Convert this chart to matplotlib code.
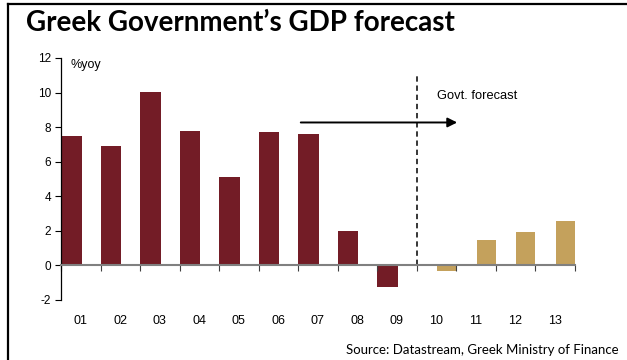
import numpy as np
import matplotlib.pyplot as plt
from matplotlib.lines import Line2D

# --- data ---
years = ['01', '02', '03', '04', '05', '06', '07', '08', '09', '10', '11', '12', '13']
actual = [7.5, 6.9, 10.05, 7.8, 5.1, 7.7, 7.6, 2.0, -1.25]
forecast = [-0.3, 1.45, 1.95, 2.55]

RED = '#731c26'
TAN = '#c4a15c'

plt.rcParams['axes.unicode_minus'] = False
plt.rcParams['font.family'] = ['Liberation Sans', 'DejaVu Sans']

fig = plt.figure(figsize=(6.27, 3.6), dpi=100)
ax = fig.add_axes([61 / 627, 1 - 300 / 360, 513.5 / 627, 242 / 360])

# frame lines round the figure (top and left)
fig.add_artist(Line2D([8 / 627, 8 / 627], [0, 1 - 4 / 360], color='black', lw=1.6))
fig.add_artist(Line2D([8 / 627, 1], [1 - 4 / 360, 1 - 4 / 360], color='black', lw=1.6))

n_act = len(actual)
x_act = np.arange(n_act)
x_fc = np.arange(n_act, len(years)) + 1 - 0.48
ax.bar(x_act, actual, width=0.53, align='edge', color=RED)
ax.bar(x_fc, forecast, width=0.48, align='edge', color=TAN)

ax.set_xlim(0, len(years))
ax.set_ylim(-2, 12)
ax.set_yticks(range(-2, 13, 2))
ax.tick_params(axis='y', length=4, width=0.8, labelsize=8.5, pad=3)

ax.spines['top'].set_visible(False)
ax.spines['right'].set_visible(False)
ax.spines['left'].set_linewidth(0.9)
ax.spines['bottom'].set_position(('data', 0))
ax.spines['bottom'].set_color('#808080')
ax.spines['bottom'].set_linewidth(1.5)

ax.set_xticks(np.arange(len(years) + 1))
ax.set_xticklabels([])
ax.tick_params(axis='x', which='major', length=4, width=0.8, color='#404040', direction='out')
ax.set_xticks(np.arange(len(years)) + 0.5, minor=True)
ax.set_xticklabels(years, minor=True)
ax.tick_params(axis='x', which='minor', length=0, labelsize=9, pad=36)

# forecast divider and arrow
ax.plot([9, 9], [0, 11.1], ls=(0, (3.5, 2.5)), color='black', lw=1.1)
ax.annotate('', xy=(10.1, 8.27), xytext=(6.0, 8.27),
            arrowprops=dict(arrowstyle='-|>', color='black', lw=1.4, mutation_scale=14))
ax.text(9.52, 9.8, 'Govt. forecast', fontsize=9.3, va='center', ha='left')
ax.text(0.25, 11.6, '%yoy', fontsize=9, va='center', ha='left')

fig.text(26 / 627, 1 - 23 / 360, 'Greek Government\u2019s GDP forecast',
         fontsize=20, fontweight='bold', family='Lato', va='center', ha='left')
fig.text(619 / 627, 1 - 350 / 360, 'Source: Datastream, Greek Ministry of Finance',
         fontsize=9.5, family='Lato', va='center', ha='right')

fig.savefig('out.png', dpi=100)
